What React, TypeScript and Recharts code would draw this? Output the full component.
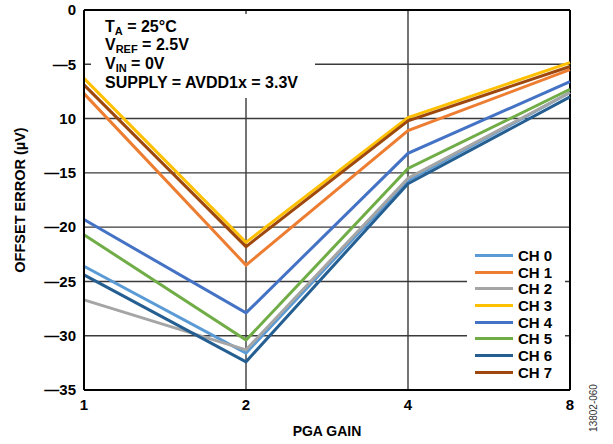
import React from 'react';
import { LineChart, Line, XAxis, YAxis, CartesianGrid, Legend, ReferenceLine, Customized } from 'recharts';

// PGA gain categories
const gains = ['1', '2', '4', '8'];

// offset error per channel (µV)
const ch0 = [-23.6, -31.6, -15.7, -7.6];
const ch1 = [-7.7, -23.5, -11.1, -5.5];
const ch2 = [-26.7, -31.3, -15.5, -7.6];
const ch3 = [-6.3, -21.4, -9.9, -4.85];
const ch4 = [-19.3, -27.9, -13.2, -6.6];
const ch5 = [-20.7, -30.4, -14.6, -7.3];
const ch6 = [-24.4, -32.4, -16.0, -8.0];
const ch7 = [-6.9, -21.8, -10.2, -5.2];

const yTicks = [0, -5, -10, -15, -20, -25, -30, -35];
// the original figure prints "10" without the minus sign
const yTickLabels = ['0', '—5', '10', '—15', '—20', '—25', '—30', '—35'];

const channels = [
  { key: 'ch0', name: 'CH 0', values: ch0, color: '#5B9BD5' },
  { key: 'ch1', name: 'CH 1', values: ch1, color: '#ED7D31' },
  { key: 'ch2', name: 'CH 2', values: ch2, color: '#A5A5A5' },
  { key: 'ch3', name: 'CH 3', values: ch3, color: '#FFC000' },
  { key: 'ch4', name: 'CH 4', values: ch4, color: '#4472C4' },
  { key: 'ch5', name: 'CH 5', values: ch5, color: '#70AD47' },
  { key: 'ch6', name: 'CH 6', values: ch6, color: '#255E91' },
  { key: 'ch7', name: 'CH 7', values: ch7, color: '#9E480E' },
];

const data = gains.map((g, i) => {
  const row: Record<string, string | number> = { gain: g };
  channels.forEach((c) => {
    row[c.key] = c.values[i];
  });
  return row;
});

const FONT = '"Liberation Sans", Arial, Helvetica, sans-serif';

// white box with the test conditions, sits over the grid but under the lines
const ConditionsBox = () => (
  <g fontFamily={FONT} fontWeight="bold" fontSize={16} fill="#000">
    <rect x={91} y={14} width={224} height={84} fill="#fff" />
    <text x={105} y={32}>
      T<tspan fontSize={11} dy={3}>A</tspan>
      <tspan dy={-3}> = 25°C</tspan>
    </text>
    <text x={105} y={50}>
      V<tspan fontSize={11} dy={3}>REF</tspan>
      <tspan dy={-3}> = 2.5V</tspan>
    </text>
    <text x={105} y={68.5}>
      V<tspan fontSize={11} dy={3}>IN</tspan>
      <tspan dy={-3}> = 0V</tspan>
    </text>
    <text x={105} y={88}>SUPPLY = AVDD1x = 3.3V</text>
  </g>
);

const renderLegend = () => (
  <div style={{ background: '#fff', padding: '2px 0 0 8px', boxSizing: 'border-box', height: 142 }}>
    {channels.map((c) => (
      <div key={c.key} style={{ display: 'flex', alignItems: 'center', height: 16.7 }}>
        <span style={{ display: 'inline-block', width: 38, height: 3, background: c.color, marginRight: 5 }} />
        <span style={{ fontFamily: FONT, fontWeight: 'bold', fontSize: 15, color: '#000' }}>{c.name}</span>
      </div>
    ))}
  </div>
);

const App: React.FC = () => {
  return (
    <div style={{ position: 'absolute', left: 0, top: 0, width: 613, height: 444, background: '#fff' }}>
      <LineChart width={613} height={444} data={data} margin={{ top: 10, right: 43, left: 0, bottom: 0 }}>
        <CartesianGrid stroke="#3a3a3a" strokeWidth={1.4} />
        <Customized component={<ConditionsBox />} />
        <XAxis
          dataKey="gain"
          height={54}
          tickLine={false}
          tickSize={0}
          tickMargin={9}
          axisLine={{ stroke: '#000', strokeWidth: 2 }}
          tick={{ fill: '#000', fontFamily: FONT, fontWeight: 'bold', fontSize: 15 }}
          label={{ value: 'PGA GAIN', position: 'insideBottom', offset: 8, fill: '#000', fontFamily: FONT, fontWeight: 'bold', fontSize: 14 }}
        />
        <YAxis
          width={84}
          domain={[-35, 0]}
          ticks={yTicks}
          interval={0}
          tickLine={false}
          tickSize={0}
          tickMargin={8}
          tickFormatter={(v: number) => yTickLabels[yTicks.indexOf(v)]}
          axisLine={{ stroke: '#000', strokeWidth: 2 }}
          tick={{ fill: '#000', fontFamily: FONT, fontWeight: 'bold', fontSize: 15 }}
          label={{
            value: 'OFFSET ERROR (µV)',
            angle: -90,
            position: 'insideLeft',
            offset: 20,
            style: { textAnchor: 'middle' },
            fill: '#000',
            fontFamily: FONT,
            fontWeight: 'bold',
            fontSize: 14.5,
          }}
        />
        <ReferenceLine y={0} stroke="#000" strokeWidth={2} />
        <ReferenceLine x="8" stroke="#000" strokeWidth={2} />
        {channels.map((c) => (
          <Line
            key={c.key}
            type="linear"
            dataKey={c.key}
            name={c.name}
            stroke={c.color}
            strokeWidth={3}
            dot={false}
            activeDot={false}
            isAnimationActive={false}
          />
        ))}
        <Legend
          layout="vertical"
          align="center"
          verticalAlign="middle"
          content={renderLegend}
          wrapperStyle={{ left: 467, top: 245, width: 98 }}
        />
        <text x={597} y={408} transform="rotate(-90 597 408)" textAnchor="middle" fontFamily={FONT} fontSize={10} fill="#333">
          13802-060
        </text>
      </LineChart>
    </div>
  );
};

export default App;
